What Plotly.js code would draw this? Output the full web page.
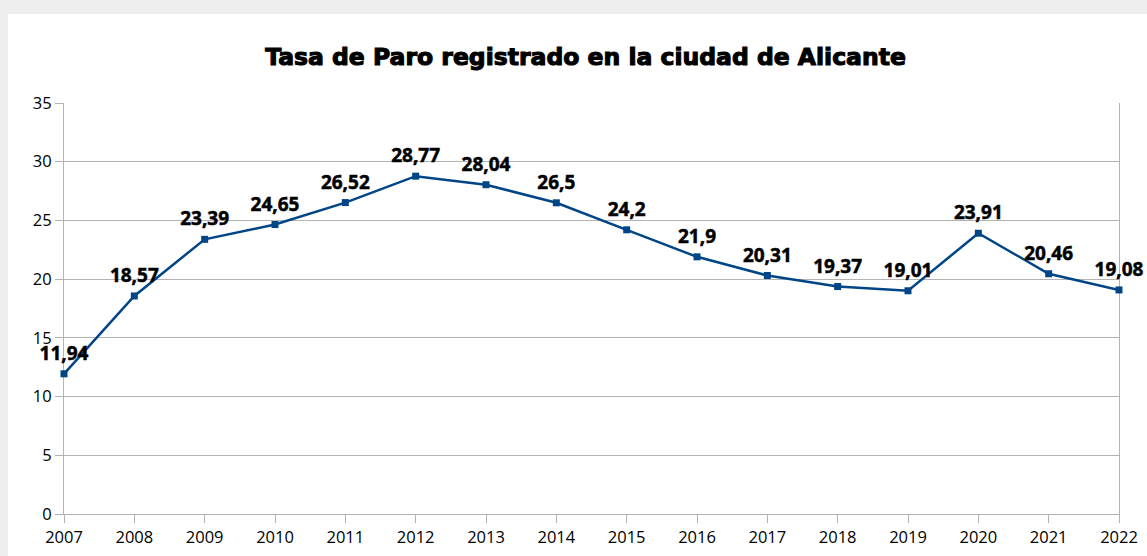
<!DOCTYPE html>
<html>
<head>
<meta charset="utf-8">
<script src="https://cdn.plot.ly/plotly-3.0.1.min.js"></script>
<style>
  html, body { margin: 0; padding: 0; background: #eeeeee; width: 1147px; height: 556px; overflow: hidden; }
  #chart { position: absolute; left: 8px; top: 14px; width: 1139px; height: 542px; background: #ffffff; }
  #chart .gtitle { stroke: #000000; stroke-width: 1.1px; }
  #chart .textpoint text { stroke: #000000; stroke-width: 0.5px; }
</style>
</head>
<body>
<div id="chart"></div>
<script>
const years = [2007, 2008, 2009, 2010, 2011, 2012, 2013, 2014, 2015, 2016, 2017, 2018, 2019, 2020, 2021, 2022];
const tasaParo = [11.94, 18.57, 23.39, 24.65, 26.52, 28.77, 28.04, 26.5, 24.2, 21.9, 20.31, 19.37, 19.01, 23.91, 20.46, 19.08];
const yTicks = [0, 5, 10, 15, 20, 25, 30, 35];
const chartTitle = 'Tasa de Paro registrado en la ciudad de Alicante';

const labels = tasaParo.map(v => String(v).replace('.', ','));

const lineTrace = {
  x: years,
  y: tasaParo,
  type: 'scatter',
  mode: 'lines+markers',
  line: { color: '#004586', width: 2.5 },
  marker: { symbol: 'square', size: 7, color: '#004586' },
  cliponaxis: false,
  hoverinfo: 'skip'
};

const labelTrace = {
  x: years,
  y: tasaParo,
  type: 'scatter',
  mode: 'markers+text',
  marker: { symbol: 'square', size: 13, color: 'rgba(0,0,0,0)' },
  text: labels,
  textposition: 'top center',
  textfont: { family: 'Open Sans', size: 19, color: '#000000', weight: 'bold' },
  cliponaxis: false,
  hoverinfo: 'skip'
};

const layout = {
  width: 1139,
  height: 542,
  paper_bgcolor: '#ffffff',
  plot_bgcolor: '#ffffff',
  margin: { l: 56, r: 28, t: 89, b: 42 },
  showlegend: false,
  title: {
    text: chartTitle,
    font: { family: 'DejaVu Sans', size: 23.5, color: '#000000', weight: 'bold' },
    x: 0.4943, xanchor: 'center', xref: 'paper',
    y: 1, yref: 'container', yanchor: 'top', pad: { t: 35 }
  },
  xaxis: {
    type: 'linear',
    range: [years[0], years[years.length - 1]],
    tickvals: years,
    ticktext: years.map(String),
    showgrid: false,
    zeroline: false,
    showline: true,
    linecolor: '#b3b3b3',
    linewidth: 1,
    layer: 'below traces',
    ticks: 'outside',
    ticklen: 8,
    tickcolor: '#b3b3b3',
    tickfont: { family: 'Open Sans', size: 16.5, color: '#000000' }
  },
  yaxis: {
    range: [0, 35],
    tickvals: yTicks,
    showgrid: true,
    gridcolor: '#b3b3b3',
    gridwidth: 1,
    zeroline: false,
    showline: true,
    mirror: true,
    linecolor: '#b3b3b3',
    linewidth: 1,
    layer: 'below traces',
    ticks: 'outside',
    ticklen: 8,
    tickcolor: '#b3b3b3',
    tickfont: { family: 'Open Sans', size: 16.5, color: '#000000' }
  }
};

Plotly.newPlot('chart', [lineTrace, labelTrace], layout, { displayModeBar: false, staticPlot: true });
</script>
</body>
</html>
